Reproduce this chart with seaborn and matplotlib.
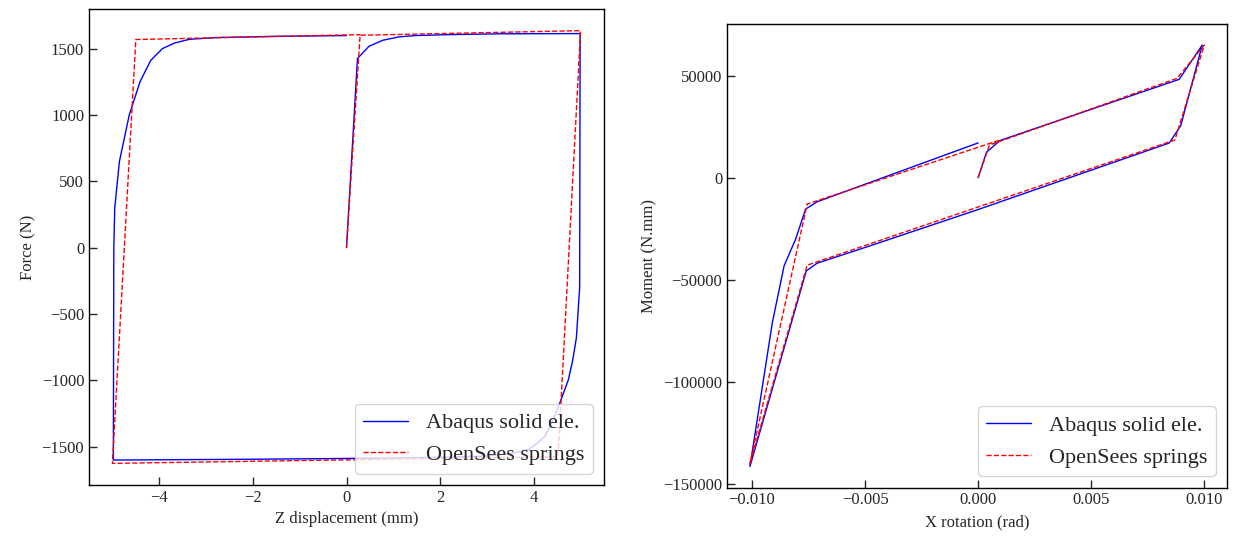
import numpy as np
import pandas as pd
import matplotlib
matplotlib.use("Agg")
import matplotlib.pyplot as plt
from matplotlib.ticker import MultipleLocator
import seaborn as sns

# ---------------- data ----------------
labels = ["Abaqus solid ele.", "OpenSees springs"]

# Left: Force (N) vs Z displacement (mm)
abq_disp = [0.0, 0.234, 0.48, 0.77, 1.12, 1.48, 2.19, 3.25, 4.99,
            4.98, 4.91, 4.83, 4.74, 4.56, 4.40, 4.24, 4.05, 3.89, 3.53, 3.0, 2.0, 0.0, -2.0, -4.98,
            -4.97, -4.95, -4.85, -4.64, -4.41, -4.18, -3.93, -3.67, -3.35, -2.78, -1.5, 0.0]
abq_force = [0, 1425, 1517, 1562, 1588, 1598, 1605, 1611, 1613,
             -300, -680, -850, -994, -1167, -1310, -1420, -1480, -1520, -1550, -1570, -1580, -1588, -1594, -1600,
             0, 300, 650, 1000, 1250, 1412, 1500, 1542, 1570, 1583, 1592, 1598]
ops_disp = [0.0, 0.29, 5.0, 4.52, -5.0, -4.5, 0.3]
ops_force = [0, 1600, 1635, -1575, -1625, 1568, 1605]

# Right: Moment (N.mm) vs X rotation (rad)
abq_rot = [0.0, 0.00037, 0.00096, 0.005, 0.00889, 0.00991, 0.00896, 0.00845, 0.0, -0.005,
           -0.00712, -0.0076, -0.01009, -0.0091, -0.00858, -0.00807, -0.00763, -0.00712, 0.0]
abq_mom = [0, 12500, 18200, 33500, 48200, 65000, 25500, 17000, -15600, -34200,
           -41900, -45700, -141500, -71000, -43200, -30100, -15400, -11800, 17050]
ops_rot = [0.0, 0.0005, 0.0088, 0.0100, 0.0087, -0.00756, -0.0101, -0.00756, 0.001]
ops_mom = [0, 16000, 48700, 65000, 18500, -42900, -140500, -12900, 18600]

# ---------------- style ----------------
sns.set_style("ticks")
plt.rcParams["font.family"] = ["Liberation Serif", "DejaVu Serif"]
plt.rcParams["axes.unicode_minus"] = True

W, H = 1233, 538
fig = plt.figure(figsize=(W / 100, H / 100), dpi=100)
ax1 = fig.add_axes([89 / W, (H - 485) / H, (604 - 89) / W, (485 - 9) / H])
ax2 = fig.add_axes([727 / W, (H - 487.5) / H, (1227 - 727) / W, (487.5 - 24) / H])

palette = {labels[0]: "blue", labels[1]: "red"}
dashes = {labels[0]: "", labels[1]: (3.7, 1.6)}


def make_df(x0, y0, x1, y1):
    d0 = pd.DataFrame({"x": x0, "y": y0, "src": labels[0]})
    d1 = pd.DataFrame({"x": x1, "y": y1, "src": labels[1]})
    return pd.concat([d0, d1], ignore_index=True)


df1 = make_df(abq_disp, abq_force, ops_disp, ops_force)
df2 = make_df(abq_rot, abq_mom, ops_rot, ops_mom)

for ax, df, xl, yl in [(ax1, df1, "Z displacement (mm)", "Force (N)"),
                       (ax2, df2, "X rotation (rad)", "Moment (N.mm)")]:
    sns.lineplot(data=df, x="x", y="y", hue="src", style="src", palette=palette,
                 dashes=dashes, sort=False, estimator=None, linewidth=1.0, ax=ax)
    h, l = ax.get_legend_handles_labels()
    ax.legend(h, l, loc="lower right", fontsize=16, frameon=True, fancybox=True,
              framealpha=0.8, edgecolor="0.8")
    ax.set_xlabel(xl, fontsize=12)
    ax.set_ylabel(yl, fontsize=12)
    ax.tick_params(direction="in", length=6, width=1.0, labelsize=12,
                   top=False, right=False)
    for s in ax.spines.values():
        s.set_visible(True)
        s.set_linewidth(1.0)
        s.set_color("black")

ax1.xaxis.set_major_locator(MultipleLocator(2))
ax1.yaxis.set_major_locator(MultipleLocator(500))
ax2.xaxis.set_major_locator(MultipleLocator(0.005))
ax2.yaxis.set_major_locator(MultipleLocator(50000))
fmt = matplotlib.ticker.ScalarFormatter(useOffset=False)
fmt.set_scientific(False)
ax2.xaxis.set_major_formatter(fmt)

fig.savefig("out.png", dpi=100)
